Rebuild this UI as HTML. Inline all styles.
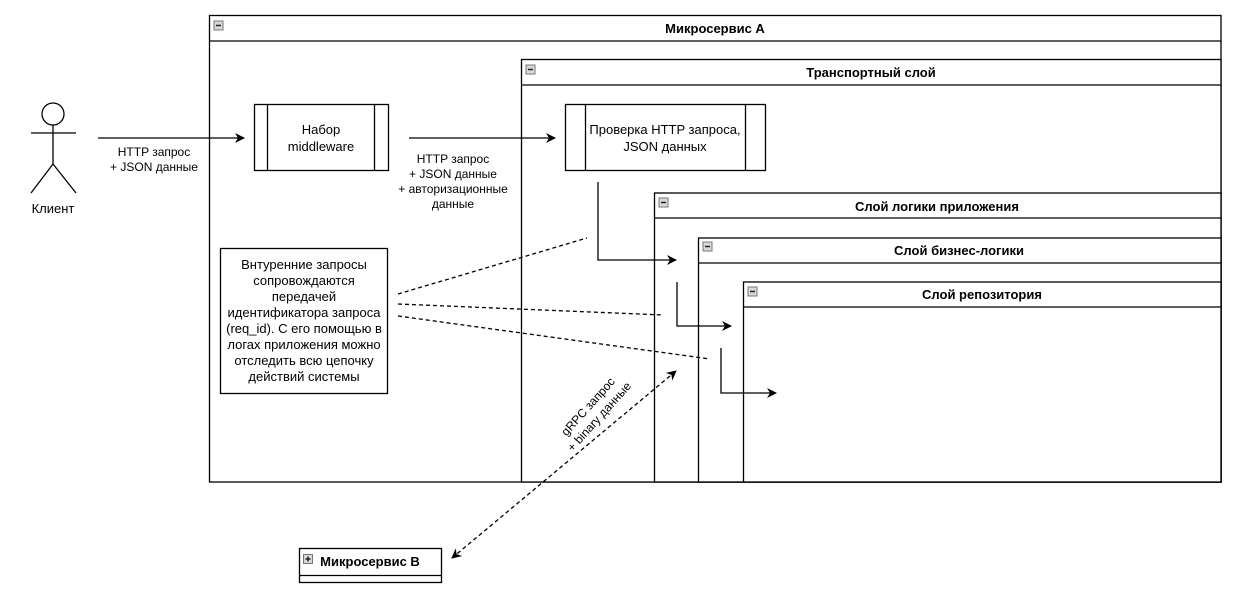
<!DOCTYPE html>
<html><head><meta charset="utf-8"><style>
html,body{margin:0;padding:0;background:#fff;}
svg{display:block;}
text{font-family:"Liberation Sans",Arial,sans-serif;font-size:13px;fill:#000;}
.b{font-weight:bold;}
</style></head><body>
<svg width="1237" height="601" viewBox="0 0 1237 601" xmlns="http://www.w3.org/2000/svg">
<defs>
<marker id="ar" viewBox="0 0 10 10" refX="9" refY="5" markerWidth="10" markerHeight="10" markerUnits="userSpaceOnUse" orient="auto-start-reverse">
<path d="M0,0 L10,5 L0,10 L3,5 z" fill="#000"/></marker>
<g id="minus"><rect x="0" y="0" width="9" height="9" fill="#d8d8d8" stroke="#777" stroke-width="1"/><line x1="2" y1="4.5" x2="7" y2="4.5" stroke="#222" stroke-width="1.5"/></g>
</defs>
<g fill="none" stroke="#000" stroke-width="1.3">
<!-- containers -->
<rect x="209.5" y="15.5" width="1011.5" height="466.5" fill="#fff"/>
<line x1="209.5" y1="41" x2="1221" y2="41"/>
<rect x="521.5" y="59.5" width="699.5" height="422.5" fill="#fff"/>
<line x1="521.5" y1="85" x2="1221" y2="85"/>
<rect x="654.5" y="193" width="566.5" height="289" fill="#fff"/>
<line x1="654.5" y1="218" x2="1221" y2="218"/>
<rect x="698.5" y="238" width="522.5" height="244" fill="#fff"/>
<line x1="698.5" y1="263" x2="1221" y2="263"/>
<rect x="743.5" y="282" width="477.5" height="200" fill="#fff"/>
<line x1="743.5" y1="307" x2="1221" y2="307"/>
<!-- process boxes -->
<rect x="254.5" y="104.5" width="134" height="66" fill="#fff"/>
<line x1="267.5" y1="104.5" x2="267.5" y2="170.5"/><line x1="374.5" y1="104.5" x2="374.5" y2="170.5"/>
<rect x="565.5" y="104.5" width="200" height="66" fill="#fff"/>
<line x1="585.5" y1="104.5" x2="585.5" y2="170.5"/><line x1="745.5" y1="104.5" x2="745.5" y2="170.5"/>
<!-- note -->
<rect x="220.5" y="248.5" width="167" height="145" fill="#fff"/>
<!-- microservice B -->
<rect x="299.5" y="548.5" width="142" height="34" fill="#fff"/>
<line x1="299.5" y1="575.5" x2="441.5" y2="575.5"/>
<!-- actor -->
<circle cx="53" cy="114" r="11"/>
<line x1="31" y1="133" x2="76" y2="133"/>
<line x1="53" y1="125" x2="53" y2="164"/>
<polyline points="31,193 53,164 76,193"/>
<!-- arrows -->
<line x1="98" y1="138" x2="244" y2="138" marker-end="url(#ar)"/>
<line x1="409" y1="138" x2="555" y2="138" marker-end="url(#ar)"/>
<polyline points="598,182 598,260 676,260" marker-end="url(#ar)"/>
<polyline points="677,282 677,326 731,326" marker-end="url(#ar)"/>
<polyline points="721,348 721,393 776,393" marker-end="url(#ar)"/>
<!-- dashed -->
<g stroke-dasharray="4,3">
<line x1="398" y1="294" x2="587" y2="238"/>
<line x1="398" y1="304" x2="663" y2="315"/>
<line x1="398" y1="316" x2="710" y2="359"/>
<line x1="452" y1="558" x2="676" y2="371" marker-start="url(#ar)" marker-end="url(#ar)"/>
</g>
</g>
<use href="#minus" x="214" y="21"/>
<use href="#minus" x="526" y="65"/>
<use href="#minus" x="659" y="198"/>
<use href="#minus" x="703" y="242"/>
<use href="#minus" x="748" y="287"/>
<rect x="303.5" y="554.5" width="9" height="9" fill="#d8d8d8" stroke="#777"/>
<line x1="305.5" y1="559" x2="310.5" y2="559" stroke="#222" stroke-width="1.5"/>
<line x1="308" y1="556.5" x2="308" y2="561.5" stroke="#222" stroke-width="1.5"/>
<!-- titles -->
<text class="b" x="715" y="33" text-anchor="middle">Микросервис А</text>
<text class="b" x="871" y="77" text-anchor="middle">Транспортный слой</text>
<text class="b" x="937" y="211" text-anchor="middle">Слой логики приложения</text>
<text class="b" x="959" y="255" text-anchor="middle">Слой бизнес-логики</text>
<text class="b" x="982" y="299" text-anchor="middle">Слой репозитория</text>
<text class="b" x="370" y="566" text-anchor="middle">Микросервис B</text>
<!-- labels -->
<text x="321" y="134" text-anchor="middle">Набор</text>
<text x="321" y="151" text-anchor="middle">middleware</text>
<text x="665" y="134" text-anchor="middle">Проверка HTTP запроса,</text>
<text x="665" y="151" text-anchor="middle">JSON данных</text>
<text x="53" y="213" text-anchor="middle">Клиент</text>
<g font-size="12">
<text x="154" y="156" text-anchor="middle" style="font-size:12px">HTTP запрос</text>
<text x="154" y="171" text-anchor="middle" style="font-size:12px">+ JSON данные</text>
<text x="453" y="163" text-anchor="middle" style="font-size:12px">HTTP запрос</text>
<text x="453" y="178" text-anchor="middle" style="font-size:12px">+ JSON данные</text>
<text x="453" y="193" text-anchor="middle" style="font-size:12px">+ авторизационные</text>
<text x="453" y="208" text-anchor="middle" style="font-size:12px">данные</text>
</g>
<g text-anchor="middle">
<text x="304" y="269">Внтуренние запросы</text>
<text x="304" y="285">сопровождаются</text>
<text x="304" y="301">передачей</text>
<text x="304" y="317">идентификатора запроса</text>
<text x="304" y="333">(req_id). С его помощью в</text>
<text x="304" y="349">логах приложения можно</text>
<text x="304" y="365">отследить всю цепочку</text>
<text x="304" y="381">действий системы</text>
</g>
<g transform="translate(594,412) rotate(-48)">
<text x="0" y="-4" text-anchor="middle" style="font-size:12px">gRPC запрос</text>
<text x="0" y="11" text-anchor="middle" style="font-size:12px">+ binary данные</text>
</g>
</svg>
</body></html>
